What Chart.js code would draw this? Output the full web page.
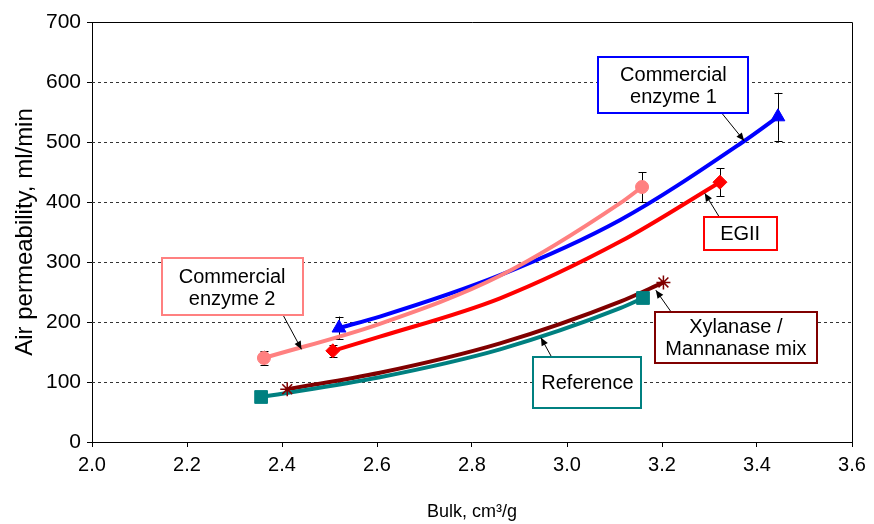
<!DOCTYPE html>
<html>
<head>
<meta charset="utf-8">
<script src="https://cdn.jsdelivr.net/npm/chart.js@4.4.0/dist/chart.umd.min.js"></script>
<style>
  html, body { margin: 0; padding: 0; background: #fff; }
  #wrap { width: 874px; height: 524px; position: relative; }
</style>
</head>
<body>
<div id="wrap"><canvas id="c" width="874" height="524"></canvas></div>
<script>
// ---------- data ----------
const seriesNames = ['Commercial enzyme 1', 'Commercial enzyme 2', 'EGII', 'Xylanase / Mannanase mix', 'Reference'];

// measured points (markers)
const ce1Bulk = [2.52, 3.444];
const ce1Perm = [190, 542];
const ce1Err  = [19, 40];

const ce2Bulk = [2.362, 3.158];
const ce2Perm = [140, 425];
const ce2Err  = [12, 25];

const egBulk = [2.507, 3.322];
const egPerm = [152, 433];
const egErr  = [10, 23];

const xmBulk = [2.411, 3.203];
const xmPerm = [88, 266];

const refBulk = [2.356, 3.160];
const refPerm = [75, 240];

// trend curves, points
const ce1TrendBulk = [2.52, 2.606, 2.859, 3.112, 3.37, 3.444];
const ce1TrendPerm = [190, 209, 278, 370, 500, 542];
const ce2TrendBulk = [2.362, 2.606, 2.859, 3.112, 3.158];
const ce2TrendPerm = [140, 197, 277, 398, 425];
const egTrendBulk  = [2.507, 2.606, 2.859, 3.112, 3.322];
const egTrendPerm  = [152, 175.5, 239.5, 334, 433];
const xmTrendBulk  = [2.411, 2.606, 2.859, 3.112, 3.203];
const xmTrendPerm  = [88, 115.5, 164.5, 234, 266];
const refTrendBulk = [2.356, 2.606, 2.859, 3.112, 3.160];
const refTrendPerm = [75, 108, 154.5, 223, 240];

// axes
const xTicks = [2.0, 2.2, 2.4, 2.6, 2.8, 3.0, 3.2, 3.4, 3.6];
const yTicks = [0, 100, 200, 300, 400, 500, 600, 700];
const xTitle = 'Bulk, cm\u00B3/g';
const yTitle = 'Air permeability, ml/min';

// ---------- styling ----------
const COLORS = { ce1: '#0000FF', ce2: '#FF8080', eg: '#FF0000', xm: '#800000', ref: '#008080' };

function pts(xs, ys) { return xs.map((x, i) => ({ x: x, y: ys[i] })); }

function trend(label, xs, ys, color) {
  return {
    label: label, data: pts(xs, ys), borderColor: color, backgroundColor: color,
    borderWidth: 4, pointRadius: 0, showLine: true, fill: false,
    cubicInterpolationMode: 'monotone', order: 2
  };
}
function marks(label, xs, ys, color, style, radius, err) {
  return {
    label: label, data: pts(xs, ys), borderColor: color, backgroundColor: color,
    pointStyle: style, pointRadius: radius, pointBorderWidth: style === 'star' ? 1.5 : 1,
    showLine: false, order: 1, errors: err || null
  };
}

// annotation call-outs (box corners and arrow ends in data units)
const notes = [
  { lines: ['Commercial', 'enzyme 1'], color: COLORS.ce1, box: [3.066, 642, 3.382, 548], from: [3.326, 548], to: [3.373, 502] },
  { lines: ['Commercial', 'enzyme 2'], color: COLORS.ce2, box: [2.147, 306, 2.443, 210.5], from: [2.403, 210.5], to: [2.441, 154.5] },
  { lines: ['EGII'], color: COLORS.eg, box: [3.288, 374.5, 3.441, 320], from: [3.321, 374.5], to: [3.290, 414.5] },
  { lines: ['Xylanase /', 'Mannanase mix'], color: COLORS.xm, box: [3.185, 217, 3.526, 132.5], from: [3.219, 217], to: [3.187, 253] },
  { lines: ['Reference'], color: COLORS.ref, box: [2.929, 141, 3.157, 56], from: [2.968, 141], to: [2.945, 174] }
];

const FONT = "'Liberation Sans', Arial, sans-serif";

// plugin: dotted grid + frame (drawn under datasets) and error bars
const decor = {
  id: 'decor',
  beforeDatasetsDraw(chart) {
    const ctx = chart.ctx, a = chart.chartArea, ys = chart.scales.y;
    ctx.save();
    ctx.strokeStyle = '#333';
    ctx.lineWidth = 1;
    ctx.setLineDash([3, 3]);
    yTicks.forEach(v => {
      if (v === 0 || v === 700) return;
      const py = Math.round(ys.getPixelForValue(v)) + 0.5;
      ctx.beginPath(); ctx.moveTo(a.left, py); ctx.lineTo(a.right, py); ctx.stroke();
    });
    ctx.setLineDash([]);
    ctx.strokeStyle = '#000';
    ctx.beginPath();
    ctx.moveTo(a.left, Math.round(a.top) + 0.5); ctx.lineTo(Math.round(a.right) + 0.5, Math.round(a.top) + 0.5);
    ctx.lineTo(Math.round(a.right) + 0.5, a.bottom);
    ctx.stroke();
    // error bars
    const xs = chart.scales.x;
    chart.data.datasets.forEach(ds => {
      if (!ds.errors) return;
      ds.data.forEach((p, i) => {
        const e = ds.errors[i];
        const px = Math.round(xs.getPixelForValue(p.x)) + 0.5;
        const y1 = ys.getPixelForValue(p.y + e), y2 = ys.getPixelForValue(p.y - e);
        ctx.beginPath();
        ctx.moveTo(px, y1); ctx.lineTo(px, y2);
        ctx.moveTo(px - 4, Math.round(y1) + 0.5); ctx.lineTo(px + 4, Math.round(y1) + 0.5);
        ctx.moveTo(px - 4, Math.round(y2) + 0.5); ctx.lineTo(px + 4, Math.round(y2) + 0.5);
        ctx.stroke();
      });
    });
    ctx.restore();
  },
  afterDatasetsDraw(chart) {
    const ctx = chart.ctx, xs = chart.scales.x, ys = chart.scales.y;
    ctx.save();
    notes.forEach(n => {
      // arrow
      const fx = xs.getPixelForValue(n.from[0]), fy = ys.getPixelForValue(n.from[1]);
      const tx = xs.getPixelForValue(n.to[0]), ty = ys.getPixelForValue(n.to[1]);
      ctx.strokeStyle = '#000'; ctx.fillStyle = '#000'; ctx.lineWidth = 1;
      ctx.beginPath(); ctx.moveTo(fx, fy); ctx.lineTo(tx, ty); ctx.stroke();
      const ang = Math.atan2(ty - fy, tx - fx), L = 8, W = 3.5;
      ctx.beginPath();
      ctx.moveTo(tx, ty);
      ctx.lineTo(tx - L * Math.cos(ang) + W * Math.sin(ang), ty - L * Math.sin(ang) - W * Math.cos(ang));
      ctx.lineTo(tx - L * Math.cos(ang) - W * Math.sin(ang), ty - L * Math.sin(ang) + W * Math.cos(ang));
      ctx.closePath(); ctx.fill();
      // box
      const x1 = xs.getPixelForValue(n.box[0]), y1 = ys.getPixelForValue(n.box[1]);
      const x2 = xs.getPixelForValue(n.box[2]), y2 = ys.getPixelForValue(n.box[3]);
      ctx.fillStyle = '#fff';
      ctx.fillRect(x1, y1, x2 - x1, y2 - y1);
      ctx.strokeStyle = n.color; ctx.lineWidth = 2;
      ctx.strokeRect(Math.round(x1), Math.round(y1), Math.round(x2 - x1), Math.round(y2 - y1));
      ctx.fillStyle = '#000';
      ctx.font = '20px ' + FONT;
      ctx.textAlign = 'center'; ctx.textBaseline = 'middle';
      const cx = (x1 + x2) / 2, cy = (y1 + y2) / 2, lh = 22;
      n.lines.forEach((t, i) => {
        ctx.fillText(t, cx, cy + (i - (n.lines.length - 1) / 2) * lh + 1);
      });
    });
    ctx.restore();
  }
};

const ctx = document.getElementById('c').getContext('2d');
new Chart(ctx, {
  type: 'scatter',
  data: {
    datasets: [
      trend(seriesNames[4] + ' trend', refTrendBulk, refTrendPerm, COLORS.ref),
      trend(seriesNames[3] + ' trend', xmTrendBulk, xmTrendPerm, COLORS.xm),
      trend(seriesNames[2] + ' trend', egTrendBulk, egTrendPerm, COLORS.eg),
      trend(seriesNames[1] + ' trend', ce2TrendBulk, ce2TrendPerm, COLORS.ce2),
      trend(seriesNames[0] + ' trend', ce1TrendBulk, ce1TrendPerm, COLORS.ce1),
      marks(seriesNames[4], refBulk, refPerm, COLORS.ref, 'rect', 9),
      marks(seriesNames[3], xmBulk, xmPerm, COLORS.xm, 'star', 7),
      marks(seriesNames[2], egBulk, egPerm, COLORS.eg, 'rectRot', 7, egErr),
      marks(seriesNames[1], ce2Bulk, ce2Perm, COLORS.ce2, 'circle', 6.5, ce2Err),
      marks(seriesNames[0], ce1Bulk, ce1Perm, COLORS.ce1, 'triangle', 8, ce1Err)
    ]
  },
  options: {
    responsive: false,
    animation: false,
    events: [],
    layout: { padding: { left: 0, right: 22, top: 22, bottom: 0 } },
    plugins: { legend: { display: false }, tooltip: { enabled: false } },
    scales: {
      x: {
        type: 'linear', min: 2.0, max: 3.6,
        afterBuildTicks: s => { s.ticks = xTicks.map(v => ({ value: v })); },
        afterFit: s => { s.height = 82; },
        ticks: { callback: v => Number(v).toFixed(1), color: '#000', font: { family: FONT, size: 20 }, padding: 6, maxRotation: 0 },
        grid: { display: true, drawOnChartArea: false, drawTicks: true, tickLength: 5, color: '#000' },
        border: { display: true, color: '#000', width: 1 },
        title: { display: true, text: xTitle, color: '#000', font: { family: FONT, size: 18 }, padding: { top: 0, bottom: 1 } }
      },
      y: {
        type: 'linear', min: 0, max: 700,
        afterBuildTicks: s => { s.ticks = yTicks.map(v => ({ value: v })); },
        afterFit: s => { s.width = 92; },
        ticks: { color: '#000', font: { family: FONT, size: 21 }, padding: 6 },
        grid: { display: true, drawOnChartArea: false, drawTicks: true, tickLength: 5, color: '#000' },
        border: { display: true, color: '#000', width: 1 },
        title: { display: true, text: yTitle, color: '#000', font: { family: FONT, size: 24 }, padding: { top: 11, bottom: 0 } }
      }
    }
  },
  plugins: [decor]
});
</script>
</body>
</html>
